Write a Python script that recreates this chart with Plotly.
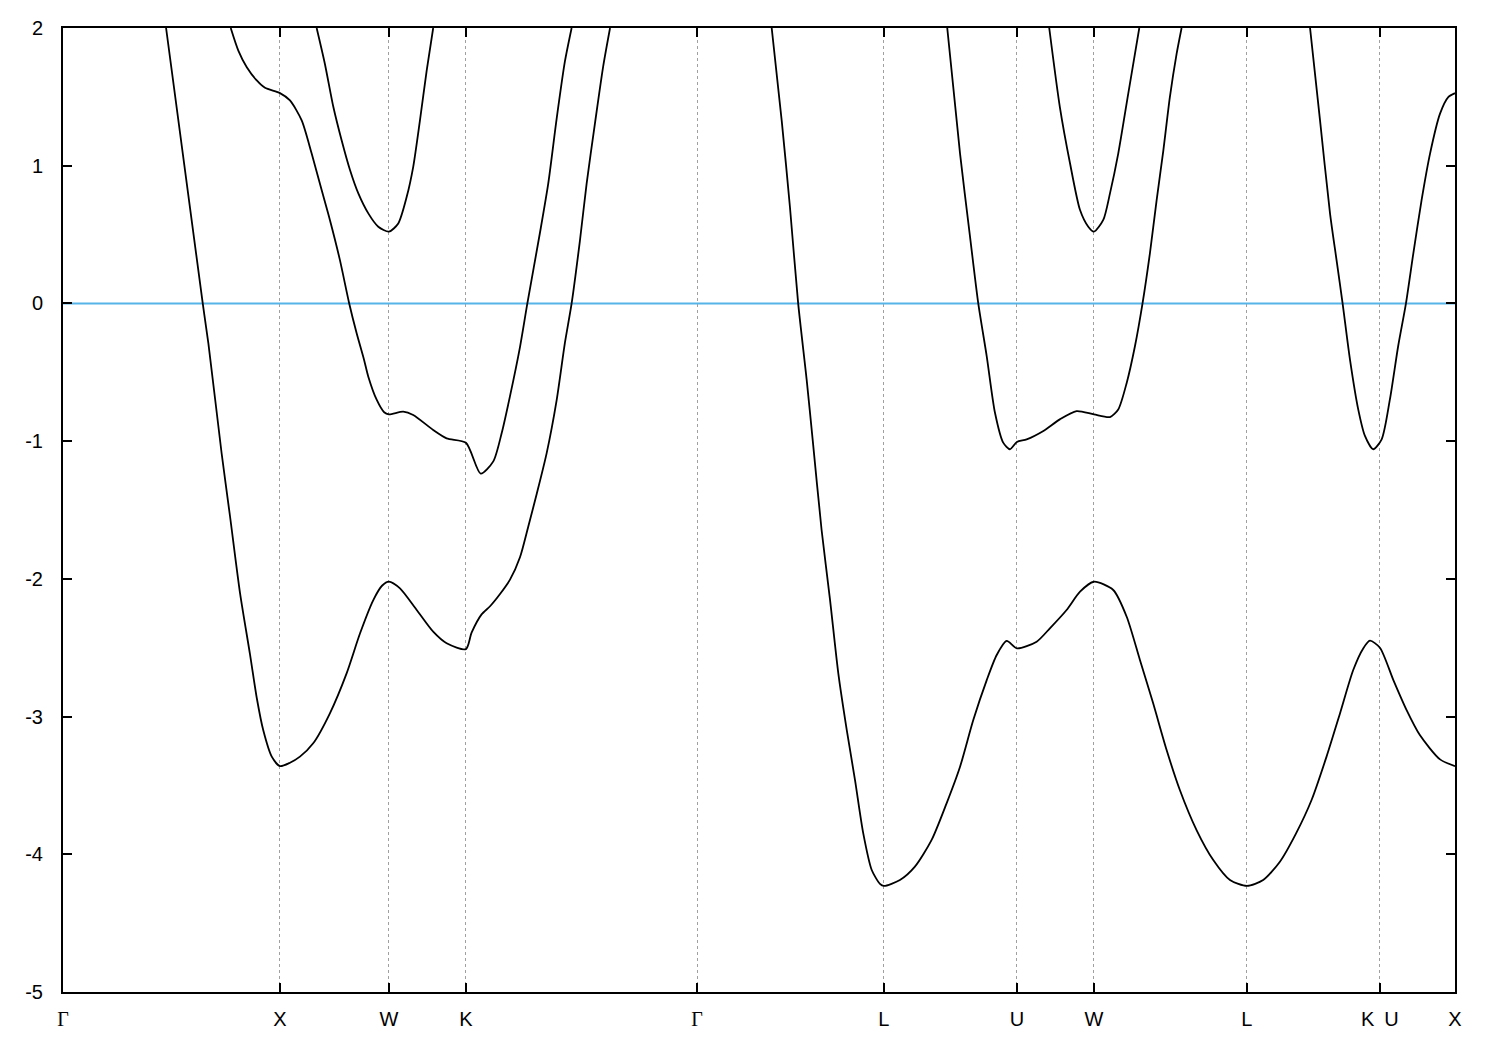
import plotly.graph_objects as go

# High-symmetry points along the path (k in units of 2*pi/a)
kpt_labels = ["Γ", "X", "W", "K", "Γ", "L", "U", "W", "L", "K\u2002U", "X"]
kpt_pos = [0.0, 1.0, 1.502, 1.857, 2.922, 3.783, 4.396, 4.751, 5.456, 6.069, 6.415]

# Band 1 (lowest), two visible pieces
b1a_k = [0.475, 0.644, 0.670, 0.731, 0.770, 0.816, 0.862, 0.893, 0.923, 0.962, 1.0,
         1.046, 1.092, 1.153, 1.230, 1.307, 1.369, 1.430, 1.470, 1.502, 1.553, 1.630, 1.706, 1.768, 1.857,
         1.883, 1.929, 1.968, 2.014, 2.060, 2.106, 2.144, 2.183, 2.229, 2.275, 2.313, 2.344,
         2.382, 2.413, 2.452, 2.490, 2.521]
b1a_E = [2.0, 0.0, -0.29, -1.088, -1.549, -2.105, -2.55, -2.865, -3.10, -3.291, -3.36,
         -3.335, -3.291, -3.194, -2.976, -2.686, -2.395, -2.154, -2.05, -2.02, -2.069, -2.226, -2.384, -2.468, -2.51,
         -2.391, -2.258, -2.199, -2.11, -2.006, -1.843, -1.621, -1.384, -1.087, -0.702, -0.287, 0.0,
         0.453, 0.868, 1.313, 1.727, 2.0]

b1b_k = [3.266, 3.312, 3.350, 3.388, 3.427, 3.455, 3.496, 3.535, 3.573, 3.612, 3.650, 3.688, 3.727,
         3.765, 3.783, 3.857, 3.926, 4.003, 4.072, 4.134, 4.195, 4.257, 4.303, 4.349, 4.396,
         4.487, 4.548, 4.625, 4.687, 4.751, 4.840, 4.902, 4.963, 5.024, 5.086, 5.147, 5.224,
         5.301, 5.378, 5.456, 5.531, 5.608, 5.682, 5.754, 5.823, 5.885, 5.946, 5.992, 6.023,
         6.069, 6.131, 6.192, 6.253, 6.346, 6.415]
b1b_E = [2.0, 1.329, 0.702, 0.0, -0.552, -0.992, -1.645, -2.154, -2.686, -3.098, -3.461, -3.848, -4.114,
         -4.215, -4.23, -4.187, -4.09, -3.896, -3.630, -3.364, -3.025, -2.735, -2.553, -2.451, -2.505,
         -2.456, -2.359, -2.226, -2.093, -2.021, -2.081, -2.275, -2.589, -2.904, -3.243, -3.533, -3.824,
         -4.042, -4.187, -4.23, -4.187, -4.054, -3.85, -3.606, -3.291, -2.977, -2.662, -2.505, -2.449,
         -2.50, -2.735, -2.953, -3.134, -3.311, -3.36]

# Band 2, three visible pieces
b2a_k = [0.773, 0.808, 0.847, 0.893, 0.931, 1.0, 1.046, 1.100, 1.146, 1.192, 1.230, 1.276, 1.319,
         1.353, 1.387, 1.407, 1.446, 1.480, 1.502, 1.568, 1.614, 1.706, 1.768, 1.857,
         1.925, 1.983, 2.022, 2.060, 2.106, 2.140, 2.198, 2.236, 2.275, 2.313, 2.344]
b2a_E = [2.0, 1.836, 1.715, 1.619, 1.566, 1.527, 1.474, 1.329, 1.088, 0.823, 0.606, 0.316, 0.0,
         -0.215, -0.407, -0.532, -0.701, -0.79, -0.805, -0.786, -0.810, -0.919, -0.980, -1.012,
         -1.236, -1.147, -0.939, -0.673, -0.317, 0.0, 0.513, 0.868, 1.342, 1.757, 2.0]

b2b_k = [4.075, 4.134, 4.180, 4.218, 4.257, 4.295, 4.333, 4.364, 4.396, 4.441, 4.518, 4.594, 4.671,
         4.751, 4.825, 4.863, 4.902, 4.940, 4.975, 5.009, 5.040, 5.071, 5.101, 5.132, 5.155]
b2b_E = [2.0, 1.088, 0.485, 0.0, -0.384, -0.794, -1.011, -1.059, -1.006, -0.987, -0.926, -0.842, -0.782,
         -0.806, -0.825, -0.770, -0.577, -0.311, 0.0, 0.364, 0.750, 1.112, 1.498, 1.812, 2.0]

b2c_k = [5.747, 5.793, 5.839, 5.869, 5.897, 5.931, 5.969, 6.000, 6.038, 6.077, 6.115, 6.153, 6.189,
         6.223, 6.261, 6.300, 6.346, 6.384, 6.415]
b2c_E = [2.0, 1.329, 0.654, 0.316, 0.0, -0.408, -0.769, -0.962, -1.059, -0.987, -0.697, -0.311, 0.0,
         0.364, 0.750, 1.088, 1.378, 1.498, 1.527]

# Band 3, two visible pieces
b3a_k = [1.169, 1.207, 1.246, 1.284, 1.323, 1.361, 1.407, 1.453, 1.502, 1.545, 1.584, 1.614, 1.645, 1.676, 1.706]
b3a_E = [2.0, 1.739, 1.426, 1.185, 0.967, 0.799, 0.654, 0.557, 0.521, 0.581, 0.774, 0.992, 1.329, 1.691, 2.0]

b3b_k = [4.545, 4.594, 4.641, 4.687, 4.725, 4.751, 4.794, 4.825, 4.863, 4.909, 4.960]
b3b_E = [2.0, 1.426, 1.016, 0.678, 0.557, 0.521, 0.606, 0.799, 1.088, 1.522, 2.0]

y_ticks = [-5, -4, -3, -2, -1, 0, 1, 2]
y_ticktext = ["-5", "-4", "-3", "-2", "-1", "0", "1", "2"]
fermi_level = 0.0

k_min, k_max = kpt_pos[0], kpt_pos[-1]
tick_marked = kpt_pos[1:-1]

fig = go.Figure()

# Fermi level line
fig.add_trace(go.Scatter(x=[k_min, k_max], y=[fermi_level, fermi_level], mode="lines",
                         line=dict(color="#56B4E9", width=2), hoverinfo="skip", showlegend=False))

segments = [(b1a_k, b1a_E), (b1b_k, b1b_E), (b2a_k, b2a_E), (b2b_k, b2b_E), (b2c_k, b2c_E),
            (b3a_k, b3a_E), (b3b_k, b3b_E)]
for kk, ee in segments:
    fig.add_trace(go.Scatter(x=kk, y=ee, mode="lines",
                             line=dict(color="black", width=1.8, shape="spline", smoothing=0.7),
                             showlegend=False))

# Invisible trace on label axis
fig.add_trace(go.Scatter(x=[k_min, k_max], y=[fermi_level, fermi_level], xaxis="x2", mode="lines",
                         line=dict(width=0), opacity=0, hoverinfo="skip", showlegend=False))

lbl_text = ['<span style="font-family:\'Liberation Serif\'">Γ</span>' if s == "Γ" else s for s in kpt_labels]

fig.update_layout(
    width=1484, height=1034,
    margin=dict(l=55, r=37, t=20, b=50),
    plot_bgcolor="white", paper_bgcolor="white",
    font=dict(family="Liberation Sans, Arial, sans-serif", size=20, color="black"),
    xaxis=dict(range=[k_min, k_max], tickvals=tick_marked, showticklabels=False,
               ticks="inside", ticklen=9, tickwidth=2, tickcolor="black",
               showline=True, linecolor="black", linewidth=2, mirror="ticks",
               showgrid=True, gridcolor="#a0a0a0", gridwidth=1, griddash="dot",
               zeroline=False, automargin=False),
    xaxis2=dict(range=[k_min, k_max], overlaying="x", side="bottom", tickvals=kpt_pos,
                ticktext=lbl_text, ticks="", showgrid=False, zeroline=False, showline=False,
                tickangle=0, ticklabelstandoff=13, tickfont=dict(size=20), automargin=False),
    yaxis=dict(range=[-5, 2], tickvals=y_ticks, ticktext=y_ticktext, tickfont=dict(size=20),
               ticks="inside", ticklen=9, tickwidth=2, tickcolor="black",
               showline=True, linecolor="black", linewidth=2, mirror="ticks",
               showgrid=False, zeroline=False, ticklabelstandoff=14, automargin=False),
)

fig.write_html("out.html")
